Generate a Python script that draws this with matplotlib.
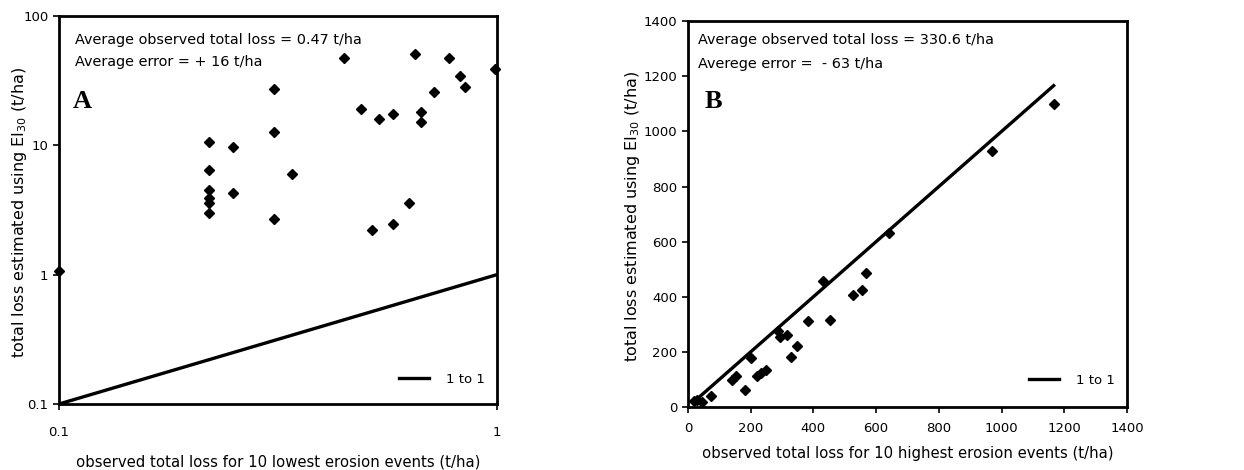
import matplotlib.pyplot as plt
import numpy as np

plt.rcParams['font.family'] = ['DejaVu Sans']

# panel A: 10 lowest erosion events (log-log)
obs_low = [0.1, 0.22, 0.22, 0.22, 0.22, 0.22, 0.22, 0.25, 0.25, 0.31, 0.31, 0.31,
           0.34, 0.448, 0.489, 0.519, 0.538, 0.58, 0.58, 0.631, 0.649, 0.67, 0.67,
           0.718, 0.776, 0.824, 0.848, 0.988]
est_low = [1.07, 10.6, 6.4, 4.5, 3.9, 3.6, 3.0, 9.7, 4.3, 27.3, 12.6, 2.68,
           6.0, 47, 19.1, 2.23, 16.0, 17.5, 2.45, 3.6, 51, 18.2, 15.1,
           25.8, 47, 34.6, 28.3, 39]

# panel B: 10 highest erosion events
obs_high = [20, 30, 44, 75, 141, 154, 182, 200, 220, 234, 248, 287, 295, 317,
            330, 348, 383, 432, 454, 527, 554, 567, 642, 970, 1166]
est_high = [21, 25, 17, 39, 99, 113, 62, 177, 113, 123, 135, 274, 253, 263,
            182, 220, 311, 457, 316, 407, 425, 485, 633, 929, 1098]

line_low = [0.1, 1.0]
line_high = [20, 1166]

ylabel = 'total loss estimated using EI$_{30}$ (t/ha)'

fig = plt.figure(figsize=(12.44, 4.70), dpi=100)
axA = fig.add_axes([0.0474, 0.1404, 0.352, 0.8256])
axB = fig.add_axes([0.553, 0.134, 0.353, 0.821])

for ax in (axA, axB):
    for s in ax.spines.values():
        s.set_linewidth(2)
    ax.tick_params(direction='out', length=4, width=1.2, labelsize=9.5)

def labels(ax, xl, xy, yx):
    ax.set_xlabel(xl, fontsize=10.7)
    ax.xaxis.set_label_coords(0.5, xy)
    ax.xaxis.label.set_va('center')
    ax.set_ylabel(ylabel, fontsize=11.5)
    ax.yaxis.set_label_coords(yx, 0.495)
    ax.yaxis.label.set_va('center')

# A
axA.plot(line_low, line_low, color='black', lw=2.4, label='1 to 1', zorder=2)
axA.plot(obs_low, est_low, 'D', color='black', ms=5.5, clip_on=False, zorder=3)
axA.set_xscale('log')
axA.set_yscale('log')
axA.set_xlim(0.1, 1)
axA.set_ylim(0.1, 100)
axA.set_xticks([0.1, 1])
axA.set_xticklabels(['0.1', '1'])
axA.set_yticks([0.1, 1, 10, 100])
axA.set_yticklabels(['0.1', '1', '10', '100'])
axA.minorticks_off()
axA.tick_params(axis='x', pad=12)
labels(axA, 'observed total loss for 10 lowest erosion events (t/ha)', -0.149, -0.09)
axA.text(0.0365, 0.938, 'Average observed total loss = 0.47 t/ha', transform=axA.transAxes,
         fontsize=10.4, va='center')
axA.text(0.0365, 0.881, 'Average error = + 16 t/ha', transform=axA.transAxes,
         fontsize=10.4, va='center')
axA.text(0.032, 0.763, 'A', transform=axA.transAxes, fontsize=19, fontweight='bold',
         family='Liberation Serif', va='baseline')
axA.legend(loc='center right', frameon=False, fontsize=9.5, handlelength=2.3,
           handletextpad=1.3, borderaxespad=0, bbox_to_anchor=(0.985, 0.064))

# B
axB.plot(line_high, line_high, color='black', lw=2.4, label='1 to 1', zorder=2)
axB.plot(obs_high, est_high, 'D', color='black', ms=5.5, clip_on=False, zorder=3)
axB.set_xlim(0, 1400)
axB.set_ylim(0, 1400)
axB.set_xticks(np.arange(0, 1401, 200))
axB.set_yticks(np.arange(0, 1401, 200))
axB.tick_params(axis='x', pad=7)
labels(axB, 'observed total loss for 10 highest erosion events (t/ha)', -0.121, -0.127)
axB.text(0.023, 0.950, 'Average observed total loss = 330.6 t/ha', transform=axB.transAxes,
         fontsize=10.4, va='center')
axB.text(0.023, 0.890, 'Averege error =  - 63 t/ha', transform=axB.transAxes,
         fontsize=10.4, va='center')
axB.text(0.039, 0.774, 'B', transform=axB.transAxes, fontsize=19, fontweight='bold',
         family='Liberation Serif', va='baseline')
axB.legend(loc='center right', frameon=False, fontsize=9.5, handlelength=2.3,
           handletextpad=1.3, borderaxespad=0, bbox_to_anchor=(0.985, 0.07))

fig.savefig('out.png', dpi=100)
